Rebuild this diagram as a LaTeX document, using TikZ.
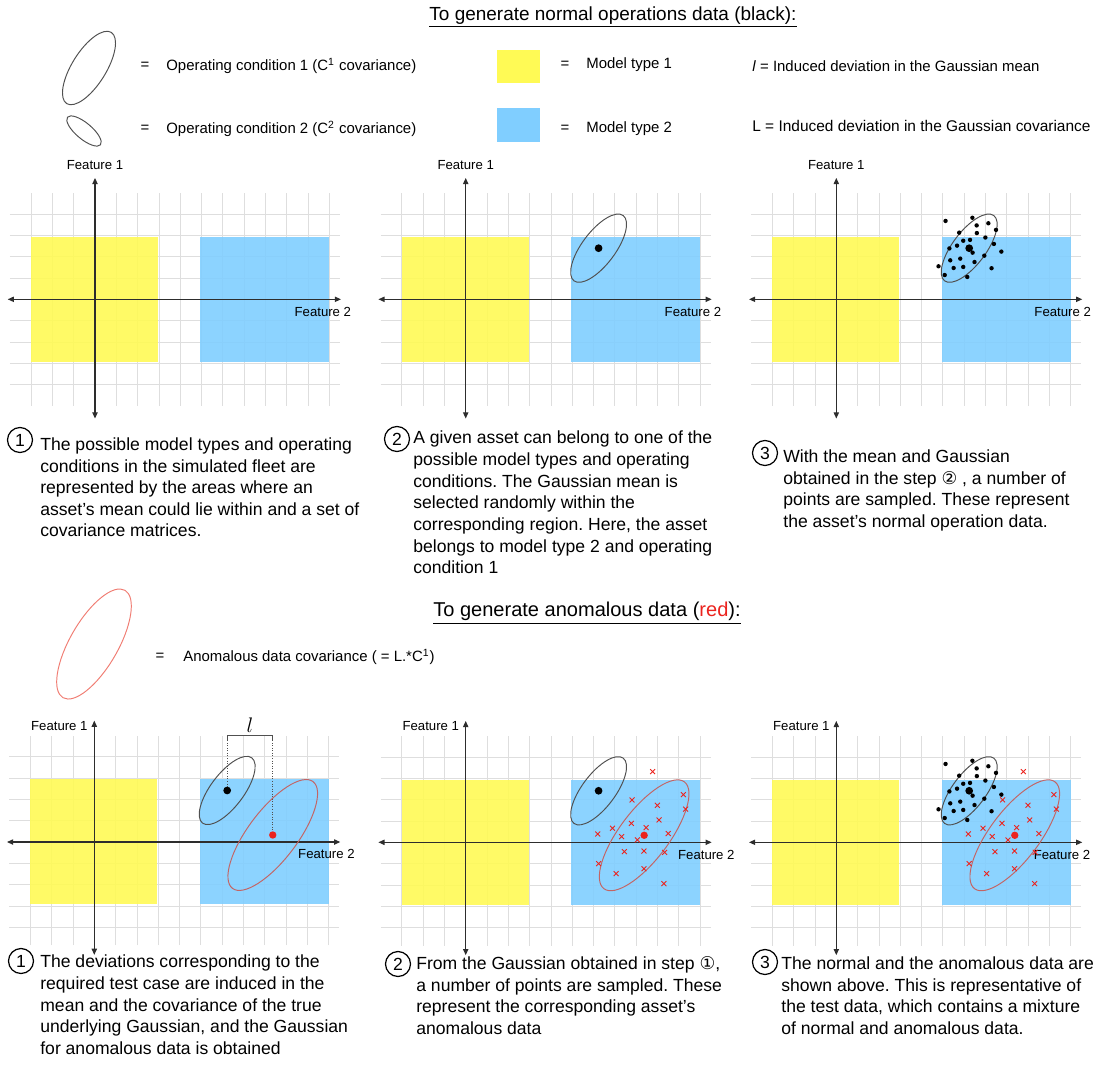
\documentclass[tikz,border=0pt]{standalone}
\usepackage{fontspec}
\setmainfont{Liberation Sans}
\newfontfamily\symfont{DejaVu Sans}
\usetikzlibrary{arrows.meta,shapes.misc}
\frenchspacing

\definecolor{modelone}{RGB}{255,250,85}
\definecolor{modeltwo}{RGB}{128,206,255}
\definecolor{gridline}{RGB}{222,222,222}
\definecolor{axisline}{RGB}{45,45,45}
\definecolor{condline}{RGB}{80,80,80}
\definecolor{anomline}{RGB}{195,100,100}
\definecolor{anomlegend}{RGB}{240,125,115}
\definecolor{anompoint}{RGB}{235,35,30}

% sampled points, in panel units (origin = axes crossing)
\newcommand{\normalpts}{5.13/3.68, 6.39/3.83, 7.14/3.57, 6.59/3.47, 7.50/3.26, 5.77/3.13, 6.60/3.11, 7.00/2.90, 5.96/2.75, 6.28/2.79, 5.31/2.39, 5.67/2.52, 6.40/2.19, 7.40/2.60, 7.75/2.24, 6.95/2.05, 5.35/1.83, 5.82/1.91, 6.49/1.75, 4.80/1.55, 5.51/1.47, 5.96/1.52, 7.29/1.46, 5.09/1.14, 6.15/1.05}
\newcommand{\anompts}{8.78/3.32, 10.22/2.24, 7.81/1.99, 9.00/1.74, 10.33/1.56, 9.08/1.05, 7.78/0.89, 6.89/0.66, 8.47/0.69, 6.20/0.39, 7.32/0.27, 9.51/0.41, 8.06/0.11, 7.45/-0.44, 8.37/-0.41, 9.34/-0.47, 6.24/-1.00, 8.37/-1.24, 7.06/-1.47, 9.31/-1.94}

\begin{document}
\begin{tikzpicture}[
  x=0.02cm, y=-0.02cm,
  title/.style={font=\fontsize{11}{13}\selectfont, inner sep=0pt},
  legtext/.style={anchor=west, font=\fontsize{8.5}{10}\selectfont, inner sep=0pt},
  eqsign/.style={font=\fontsize{8.5}{10}\selectfont, inner sep=0pt},
  steptext/.style={anchor=north west, align=left, font=\fontsize{10}{12.3}\selectfont, inner sep=0pt},
  stepnum/.style={circle, draw, line width=0.7pt, minimum size=0.5cm, inner sep=0pt, font=\fontsize{10}{12}\selectfont},
  featlabel/.style={font=\fontsize{7.5}{9}\selectfont, inner sep=0pt},
  panel/.style 2 args={xshift=#1*0.02cm, yshift=-#2*0.02cm, x=0.426cm, y=0.426cm},
  gridln/.style={gridline, line width=0.4pt},
  axis/.style={axisline, line width=0.65pt, {Triangle[length=3.5pt,width=3pt]}-{Triangle[length=3.5pt,width=3pt]}},
  condone/.style={draw=condline, line width=0.55pt},
  anomcov/.style={draw=anomline, line width=0.55pt},
  meandot/.style={circle, fill=black, inner sep=0pt, minimum size=4.4pt},
  anommean/.style={circle, fill=anompoint, inner sep=0pt, minimum size=4.2pt},
  sampdot/.style={circle, fill=black, inner sep=0pt, minimum size=2.5pt},
  anomx/.style={cross out, draw=anompoint, line width=0.5pt, inner sep=0pt, minimum size=2.3pt},
]
\useasboundingbox (0,0) rectangle (1101,1065);

% === LEGEND, NORMAL DATA ===
\node[title, font=\fontsize{10.8}{13}\selectfont] (normtitle) at (613,17) {\underline{To generate normal operations data (black):}};

\draw[condone] (89,68) ellipse [x radius=42, y radius=17, rotate=58];
\node[eqsign] (eqone) at (145,66) {=};
\node[legtext] (condone) at (166,66) {Operating condition 1 (C\textsuperscript{1} covariance)};
\draw[condone] (84,131) ellipse [x radius=21.5, y radius=8, rotate=-40];
\node[eqsign] (eqtwo) at (145,129) {=};
\node[legtext] (condtwo) at (166,129) {Operating condition 2 (C\textsuperscript{2} covariance)};

\fill[modelone] (497,50) rectangle (540,83);
\node[eqsign] (eqthree) at (565,65) {=};
\node[legtext] (mtone) at (586,65) {Model type 1};
\fill[modeltwo] (497,108) rectangle (540,142);
\node[eqsign] (eqfour) at (565,129) {=};
\node[legtext] (mttwo) at (586,129) {Model type 2};

\node[legtext] (devmean) at (752,66) {\textit{l} = Induced deviation in the Gaussian mean};
\node[legtext, font=\fontsize{8.8}{10}\selectfont] (devcov) at (752,126) {L = Induced deviation in the Gaussian covariance};

% === LEGEND, ANOMALOUS DATA ===
\node[title, font=\fontsize{11.4}{13}\selectfont] (anomtitle) at (587,613) {\underline{To generate anomalous data (\textcolor{anompoint}{red}):}};
\draw[draw=anomlegend, line width=0.55pt] (94,644) ellipse [x radius=62, y radius=24, rotate=60];
\node[eqsign] (eqfive) at (160,657) {=};
\node[legtext] (anomcov) at (183,657) {Anomalous data covariance ( = L.*C\textsuperscript{1})};

% === SIX PANELS: grid, model regions, axes ===
\foreach \px/\py/\fx/\gb/\ab [count=\i] in {95/299.3/10.7/5/5.6, 465.7/299.3/10.67/5/5.6, 836.3/299.3/10.63/5/5.6, 94.3/842/10.9/4.85/5.3, 465.7/842.3/11.3/4.85/5.3, 836.3/842.3/10.6/4.85/5.3}{
  \begin{scope}[panel={\px}{\py}]
    \foreach \gx in {-3,...,11} \draw[gridln] (\gx,-\gb) -- (\gx,5);
    \foreach \gy in {-4,...,4} \draw[gridln] (-4,\gy) -- (11.5,\gy);
    \fill[modelone, fill opacity=0.9] (-3,-2.93) rectangle (2.95,2.94);
    \fill[modeltwo, fill opacity=0.9] (4.95,-2.93) rectangle (11,2.94);
    \draw[axis] (-4.1,0) -- (11.55,0);
    \draw[axis] (0,-\ab) -- (0,5.7);
    \ifnum\i<4
      \node[featlabel] (featone-\i) at (0,6.3) {Feature 1};
    \else
      \node[featlabel, anchor=east] (featone-\i) at (-0.3,5.45) {Feature 1};
    \fi
    \node[featlabel] (feattwo-\i) at (\fx,-0.58) {Feature 2};
  \end{scope}
}

% === TOP ROW: normal operations data ===
\begin{scope}[panel={465.7}{299.3}]
  \node[meandot] (mean-b) at (6.24,2.4) {};
  \draw[condone] (mean-b.center) ellipse [x radius=1.92, y radius=0.78, rotate=53];
\end{scope}

\begin{scope}[panel={836.3}{299.3}]
  \node[meandot] (mean-c) at (6.24,2.4) {};
  \draw[condone] (mean-c.center) ellipse [x radius=1.92, y radius=0.78, rotate=53];
  \foreach \sx/\sy [count=\k] in \normalpts
    \node[sampdot] (nrm-c-\k) at (\sx,\sy) {};
\end{scope}

\node[stepnum] (numa) at (20,440) {1};
\node[steptext] (stepa) at (40,435) {\strut The possible model types and operating\\conditions in the simulated fleet are\\represented by the areas where an\\asset's mean could lie within and a set of\\covariance matrices.};
\node[stepnum] (numb) at (397,439) {2};
\node[steptext] (stepb) at (413,428.5) {\strut A given asset can belong to one of the\\possible model types and operating\\conditions. The Gaussian mean is\\selected randomly within the\\corresponding region. Here, the asset\\belongs to model type 2 and operating\\condition 1};
\node[stepnum] (numc) at (765,453) {3};
\node[steptext] (stepc) at (783,447) {\strut With the mean and Gaussian\\obtained in the step {\symfont ②} , a number of\\points are sampled. These represent\\the asset's normal operation data.};

% === BOTTOM ROW: anomalous data ===
\begin{scope}[panel={94.3}{842}]
  \node[meandot] (mean-d) at (6.24,2.42) {};
  \draw[condone] (mean-d.center) ellipse [x radius=1.92, y radius=0.78, rotate=53];
  \node[anommean] (anom-d) at (8.38,0.33) {};
  \draw[anomcov] (anom-d.center) ellipse [x radius=3.14, y radius=1.16, rotate=53];
  % deviation l between the two means
  \coordinate (devl) at (6.24,5.02);
  \coordinate (devr) at (8.38,5.02);
  \draw[condline, line width=0.45pt] (devl) -- (devr);
  \draw[condline, line width=0.45pt] (devl) -- ++(0,-0.25);
  \draw[condline, line width=0.45pt] (devr) -- ++(0,-0.25);
  \draw[condline, line width=0.45pt, densely dotted] (devl) -- (mean-d);
  \draw[condline, line width=0.45pt, densely dotted] (devr) -- (anom-d);
  \node[inner sep=0pt, font=\fontsize{13}{13}\selectfont] (devlab) at (7.31,5.5) {$l$};
\end{scope}

\begin{scope}[panel={465.7}{842.3}]
  \node[meandot] (mean-e) at (6.24,2.42) {};
  \draw[condone] (mean-e.center) ellipse [x radius=1.92, y radius=0.78, rotate=53];
  \node[anommean] (anom-e) at (8.38,0.33) {};
  \draw[anomcov] (anom-e.center) ellipse [x radius=3.14, y radius=1.16, rotate=53];
  \foreach \sx/\sy [count=\k] in \anompts
    \node[anomx] (anm-e-\k) at (\sx,\sy) {};
\end{scope}

\begin{scope}[panel={836.3}{842.3}]
  \node[meandot] (mean-f) at (6.24,2.42) {};
  \draw[condone] (mean-f.center) ellipse [x radius=1.92, y radius=0.78, rotate=53];
  \foreach \sx/\sy [count=\k] in \normalpts
    \node[sampdot] (nrm-f-\k) at (\sx,\sy) {};
  \node[anommean] (anom-f) at (8.38,0.33) {};
  \draw[anomcov] (anom-f.center) ellipse [x radius=3.14, y radius=1.16, rotate=53];
  \foreach \sx/\sy [count=\k] in \anompts
    \node[anomx] (anm-f-\k) at (\sx,\sy) {};
\end{scope}

\node[stepnum] (numd) at (21,961) {1};
\node[steptext] (stepd) at (40,952.5) {\strut The deviations corresponding to the\\required test case are induced in the\\mean and the covariance of the true\\underlying Gaussian, and the Gaussian\\for anomalous data is obtained};
\node[stepnum] (nume) at (398,964) {2};
\node[steptext] (stepe) at (416,954) {\strut From the Gaussian obtained in step {\symfont ①},\\a number of points are sampled. These\\represent the corresponding asset's\\anomalous data};
\node[stepnum] (numf) at (765,962) {3};
\node[steptext] (stepf) at (781,954) {\strut The normal and the anomalous data are\\shown above. This is representative of\\the test data, which contains a mixture\\of normal and anomalous data.};
\end{tikzpicture}
\end{document}
